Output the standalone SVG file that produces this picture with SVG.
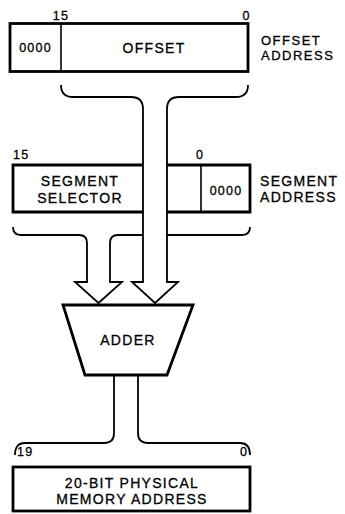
<svg xmlns="http://www.w3.org/2000/svg" width="345" height="514" viewBox="0 0 345 514">
<style>
.box{fill:none;stroke:#000;stroke-width:2.8;stroke-linejoin:miter}
.div{fill:none;stroke:#000;stroke-width:1.6}
.ln{fill:none;stroke:#000;stroke-width:1.8;stroke-linejoin:miter}
text{font-family:"Liberation Sans",Arial,sans-serif;fill:#000;stroke:#000;stroke-width:0.3}
.t{font-size:14px;letter-spacing:1.3px}
.r{font-size:13px;letter-spacing:1.5px}
.n{font-size:12.5px;letter-spacing:1.2px}
.c{text-anchor:middle}
</style>
<rect width="345" height="514" fill="#fff"/>
<g id="connectors">
<path class="ln" d="M61,85 Q61,97 73,97 L131,97 Q143,97 143,109 L143,282 L132,282 L155,303 L178,282 L167,282 L167,109 Q167,97 179,97 L236,97 Q248,97 248,85"/>
<path class="ln" d="M13,227 Q13,235 21,235 L79,235 Q87,235 87,243 L87,282 L75,282 L98.5,303 L122,282 L110,282 L110,243 Q110,235 118,235 L143,235"/>
<path class="ln" d="M167,235 L242,235 Q250,235 250,227"/>
<path class="ln" d="M114,375 L114,433 Q114,443 104,443 L25,443 Q15,443 15,455"/>
<path class="ln" d="M138,375 L138,433 Q138,443 148,443 L240,443 Q250,443 250,455"/>
</g>
<g id="offset">
<rect class="box" x="10" y="23.5" width="238" height="48"/>
<line class="div" x1="61" y1="23.5" x2="61" y2="71.5"/>
<text class="n c" x="61" y="20">15</text>
<text class="n c" x="246.5" y="20">0</text>
<text class="n c" x="35.5" y="52">0000</text>
<text class="t c" x="154" y="52.5">OFFSET</text>
<text class="r" x="261" y="45">OFFSET</text>
<text class="r" x="261" y="60">ADDRESS</text>
</g>
<g id="segment">
<path class="box" d="M143,165 L13,165 L13,212 L143,212"/>
<path class="box" d="M167,165 L250,165 L250,212 L167,212"/>
<line class="div" x1="201" y1="165" x2="201" y2="212"/>
<text class="n" x="13" y="158.5">15</text>
<text class="n c" x="200" y="158.5">0</text>
<text class="t c" x="80" y="186">SEGMENT</text>
<text class="t c" x="80" y="202.5">SELECTOR</text>
<text class="n c" x="226" y="194.5">0000</text>
<text class="t" x="260" y="186">SEGMENT</text>
<text class="t" x="260" y="202">ADDRESS</text>
</g>
<g id="adder">
<path class="box" d="M63,305 L193,305 L167,375 L85,375 Z"/>
<text class="t c" x="128" y="345">ADDER</text>
</g>
<g id="physical">
<rect class="box" x="13" y="467" width="237" height="44"/>
<text class="n" x="17" y="456">19</text>
<text class="n c" x="244" y="456">0</text>
<text class="t c" x="132" y="488">20-BIT PHYSICAL</text>
<text class="t c" x="132" y="503.5">MEMORY ADDRESS</text>
</g>
</svg>
